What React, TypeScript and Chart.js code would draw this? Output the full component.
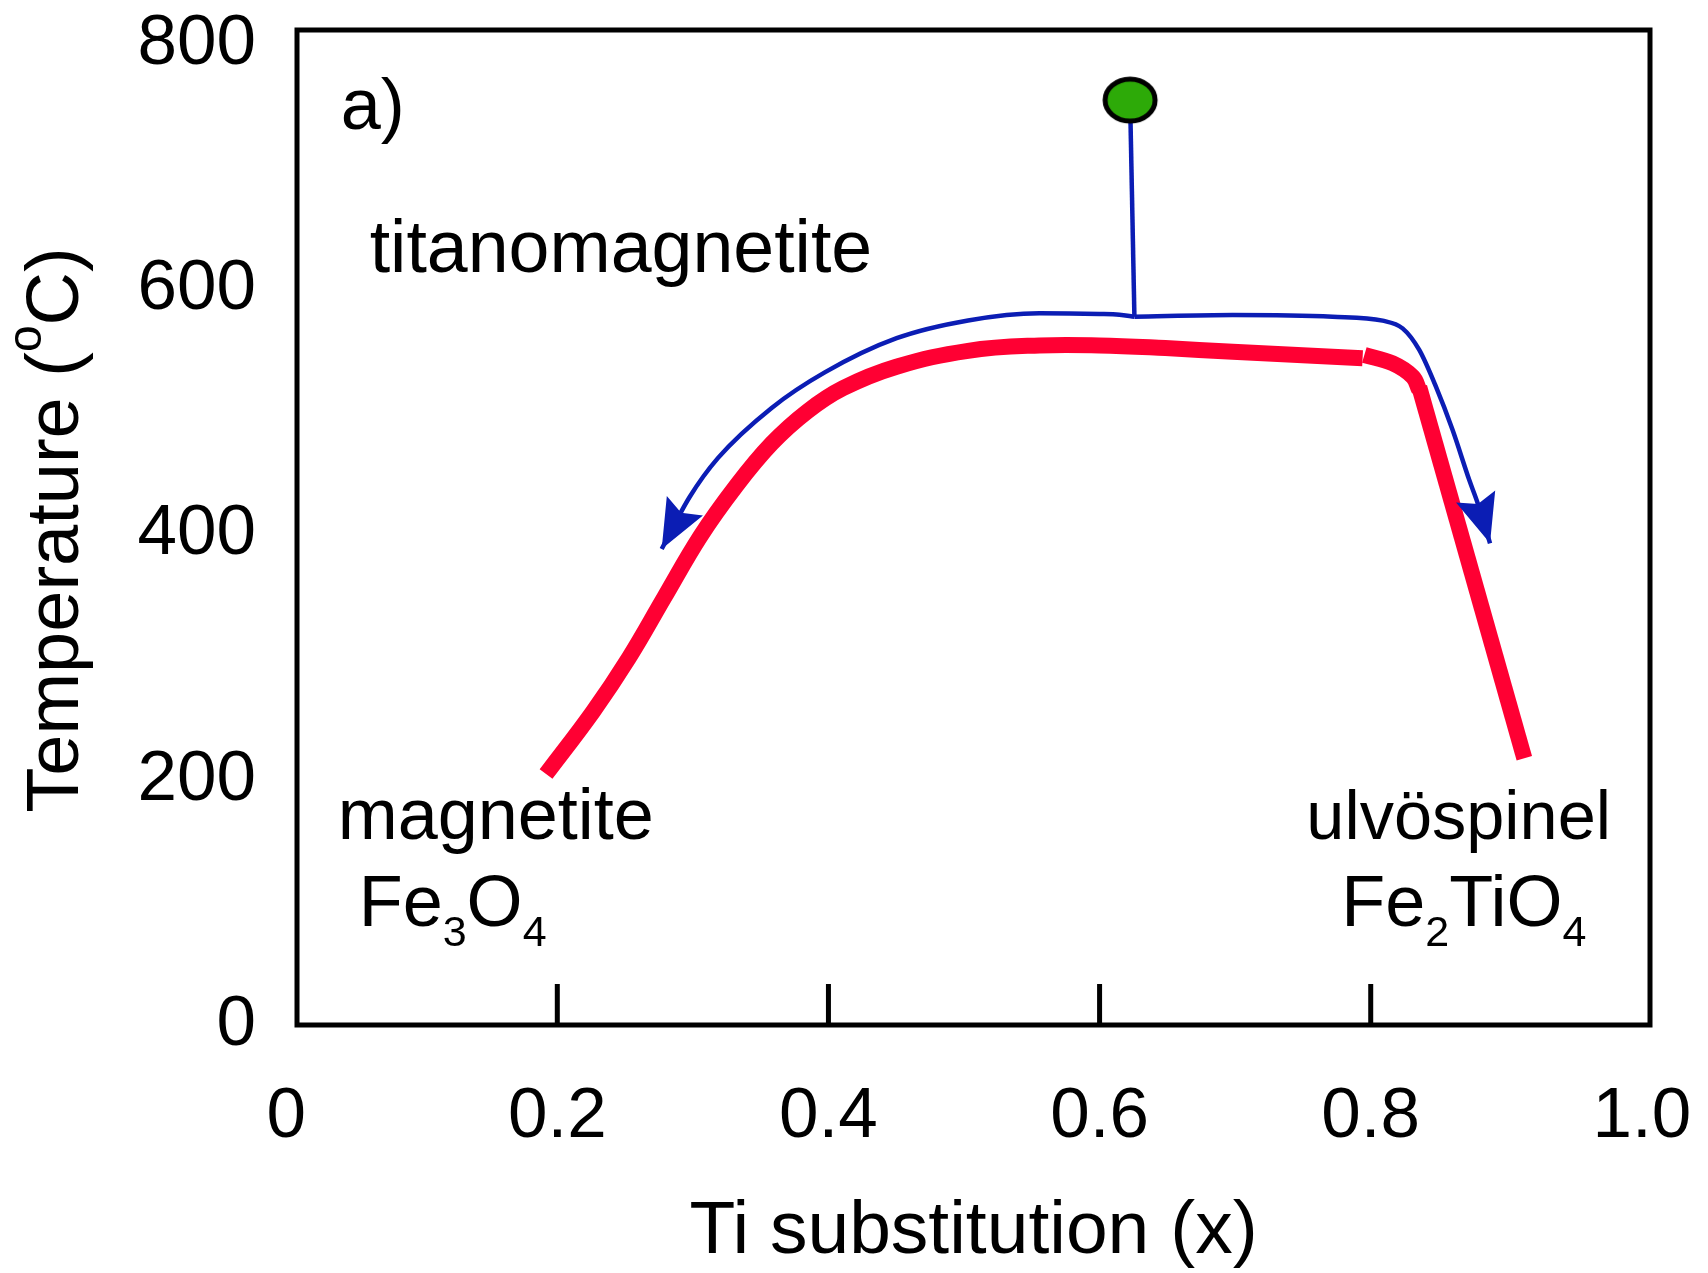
import React, { useEffect, useRef } from "react";
import { Chart, registerables } from "chart.js";

Chart.register(...registerables);

const FONT = '"Liberation Sans", Arial, sans-serif';

// Axis ticks
const xTickValues = [0, 0.2, 0.4, 0.6, 0.8, 1.0];
const xTickLabels = ["0", "0.2", "0.4", "0.6", "0.8", "1.0"];
const yTickValues = [0, 200, 400, 600, 800];
const xTitle = "Ti substitution (x)";

// Curie temperature of titanomagnetite (red curve), drawn in three pieces
const curieMainX = [0.1917, 0.2265, 0.2528, 0.2791, 0.3055, 0.3317, 0.3581, 0.3844, 0.4108, 0.4502, 0.503, 0.5556, 0.5998, 0.6485, 0.6982, 0.794];
const curieMainY = [204.8, 256, 299.6, 349.3, 398.8, 439.6, 474.5, 500.7, 519.7, 537.2, 550.2, 554.6, 554.6, 552.4, 549.4, 544.1];
const curieBendX = [0.7953, 0.8161, 0.8309, 0.8358];
const curieBendY = [546.8, 540, 529.1, 518.2];
const curieTailX = [0.8358, 0.9133];
const curieTailY = [520.5, 217.7];

// Cooling path of the starting composition (blue)
const startX = [0.6225];
const startY = [754.8];
const stemX = [0.6225, 0.6257];
const stemY = [754.8, 578];
const towardMagnetiteX = [0.6257, 0.6146, 0.5998, 0.5556, 0.503, 0.4503, 0.3976, 0.3581, 0.3186, 0.2975, 0.277];
const towardMagnetiteY = [578, 579.7, 580.3, 580.9, 575, 560.5, 532.8, 503.6, 462.8, 430.7, 388.5];
const towardUlvospinelX = [0.6257, 0.6982, 0.7719, 0.8088, 0.8235, 0.8358, 0.8481, 0.8604, 0.8727, 0.8789, 0.888];
const towardUlvospinelY = [578, 579.4, 578, 574.8, 568.5, 550.9, 520.9, 485.5, 444.7, 425.8, 393.1];

const RED = "#ff0033";
const BLUE = "#0b1db4";
const GREEN = "#2daa08";

type Run = { text: string; size: number; shift?: number };
type Label = { x: number; y: number; runs: Run[] };

// Text placed in data coordinates (left edge, baseline)
const labels: Label[] = [
  { x: 0.0402, y: 731.6, runs: [{ text: "a)", size: 72 }] },
  { x: 0.0616, y: 614.5, runs: [{ text: "titanomagnetite", size: 73.5 }] },
  { x: 0.038, y: 151.8, runs: [{ text: "magnetite", size: 72 }] },
  {
    x: 0.0535,
    y: 80.8,
    runs: [
      { text: "Fe", size: 72 },
      { text: "3", size: 43, shift: 20 },
      { text: "O", size: 72 },
      { text: "4", size: 43, shift: 20 },
    ],
  },
  { x: 0.7525, y: 151.8, runs: [{ text: "ulvöspinel", size: 68.5 }] },
  {
    x: 0.7783,
    y: 80.8,
    runs: [
      { text: "Fe", size: 72 },
      { text: "2", size: 43, shift: 20 },
      { text: "TiO", size: 72 },
      { text: "4", size: 43, shift: 20 },
    ],
  },
];

const yTitleRuns: Run[] = [
  { text: "Temperature (", size: 74 },
  { text: "o", size: 48, shift: -37 },
  { text: "C)", size: 74 },
];

const pts = (xs: number[], ys: number[]) => xs.map((x, i) => ({ x, y: ys[i] }));

function runsWidth(ctx: CanvasRenderingContext2D, runs: Run[]) {
  let w = 0;
  for (const r of runs) {
    ctx.font = `${r.size}px ${FONT}`;
    w += ctx.measureText(r.text).width;
  }
  return w;
}

function drawRuns(ctx: CanvasRenderingContext2D, runs: Run[], x: number, y: number) {
  let cx = x;
  for (const r of runs) {
    ctx.font = `${r.size}px ${FONT}`;
    ctx.fillText(r.text, cx, y + (r.shift || 0));
    cx += ctx.measureText(r.text).width;
  }
}

function makeDotImage() {
  const c = document.createElement("canvas");
  c.width = 58;
  c.height = 50;
  const g = c.getContext("2d")!;
  g.beginPath();
  g.ellipse(29, 25, 25, 21, 0, 0, Math.PI * 2);
  g.fillStyle = GREEN;
  g.fill();
  g.lineWidth = 5;
  g.strokeStyle = "#000";
  g.stroke();
  return c;
}

const decorPlugin = {
  id: "decor",
  afterDatasetsDraw(chart: any) {
    const ctx: CanvasRenderingContext2D = chart.ctx;
    const { left, right, top, bottom } = chart.chartArea;
    const xs = chart.scales.x;
    const ys = chart.scales.y;

    // arrowheads at the end of each blue path
    chart.data.datasets.forEach((ds: any, i: number) => {
      if (!ds.arrowEnd) return;
      const els = chart.getDatasetMeta(i).data;
      const tip = els[els.length - 1];
      const prev = els[els.length - 2];
      let dx = tip.x - prev.x;
      let dy = tip.y - prev.y;
      const len = Math.hypot(dx, dy) || 1;
      dx /= len;
      dy /= len;
      const nx = -dy;
      const ny = dx;
      const L = 49;
      const W = 20.5;
      const N = 8;
      ctx.save();
      ctx.fillStyle = BLUE;
      ctx.beginPath();
      ctx.moveTo(tip.x, tip.y);
      ctx.lineTo(tip.x - dx * L + nx * W, tip.y - dy * L + ny * W);
      ctx.lineTo(tip.x - dx * (L - N), tip.y - dy * (L - N));
      ctx.lineTo(tip.x - dx * L - nx * W, tip.y - dy * L - ny * W);
      ctx.closePath();
      ctx.fill();
      ctx.restore();
    });

    ctx.save();
    // inner tick marks on the bottom axis
    ctx.strokeStyle = "#000";
    ctx.lineWidth = 5;
    for (const v of xTickValues) {
      if (v <= 0 || v >= 1) continue;
      const px = xs.getPixelForValue(v);
      ctx.beginPath();
      ctx.moveTo(px, bottom);
      ctx.lineTo(px, bottom - 41);
      ctx.stroke();
    }
    // frame
    ctx.lineWidth = 5;
    ctx.strokeRect(left, top, right - left, bottom - top);

    // annotations
    ctx.fillStyle = "#000";
    ctx.textBaseline = "alphabetic";
    ctx.textAlign = "left";
    for (const lb of labels) {
      drawRuns(ctx, lb.runs, xs.getPixelForValue(lb.x), ys.getPixelForValue(lb.y));
    }

    // rotated y-axis title with superscript degree mark
    const w = runsWidth(ctx, yTitleRuns);
    ctx.translate(78, 530);
    ctx.rotate(-Math.PI / 2);
    drawRuns(ctx, yTitleRuns, -w / 2, 0);
    ctx.restore();
  },
};

export default function App() {
  const ref = useRef<HTMLCanvasElement | null>(null);

  useEffect(() => {
    if (!ref.current) return;
    const dot = makeDotImage();
    const chart = new Chart(ref.current, {
      type: "line",
      data: {
        datasets: [
          {
            data: pts(startX, startY),
            showLine: false,
            pointStyle: dot as any,
            pointRadius: 25,
          },
          {
            data: pts(stemX, stemY),
            borderColor: BLUE,
            borderWidth: 4.5,
            pointRadius: 0,
            tension: 0,
          },
          {
            data: pts(towardMagnetiteX, towardMagnetiteY),
            borderColor: BLUE,
            borderWidth: 4.5,
            pointRadius: 0,
            cubicInterpolationMode: "monotone",
            arrowEnd: true,
          } as any,
          {
            data: pts(towardUlvospinelX, towardUlvospinelY),
            borderColor: BLUE,
            borderWidth: 4.5,
            pointRadius: 0,
            cubicInterpolationMode: "monotone",
            arrowEnd: true,
          } as any,
          {
            data: pts(curieMainX, curieMainY),
            borderColor: RED,
            borderWidth: 16,
            borderCapStyle: "butt",
            pointRadius: 0,
            tension: 0.4,
          },
          {
            data: pts(curieBendX, curieBendY),
            borderColor: RED,
            borderWidth: 16,
            borderCapStyle: "butt",
            pointRadius: 0,
            tension: 0.4,
          },
          {
            data: pts(curieTailX, curieTailY),
            borderColor: RED,
            borderWidth: 16,
            borderCapStyle: "butt",
            pointRadius: 0,
            tension: 0,
          },
        ],
      },
      options: {
        responsive: false,
        animation: false,
        devicePixelRatio: 1,
        layout: { padding: { left: 0, right: 58, top: 30, bottom: 0 } },
        plugins: { legend: { display: false }, tooltip: { enabled: false } },
        scales: {
          x: {
            type: "linear",
            min: 0.008,
            max: 1.006,
            bounds: "data",
            grid: { display: false },
            border: { display: false },
            afterBuildTicks: (s: any) => {
              s.ticks = xTickValues.map((v) => ({ value: v }));
            },
            afterFit: (s: any) => {
              s.height = 248;
              s.paddingLeft = 0;
              s.paddingRight = 0;
            },
            ticks: {
              autoSkip: false,
              maxRotation: 0,
              padding: 42,
              color: "#000",
              font: { family: FONT, size: 71 },
              callback: (_v: any, i: number) => xTickLabels[i],
            },
            title: {
              display: true,
              text: xTitle,
              color: "#000",
              font: { family: FONT, size: 75, lineHeight: 1 },
              padding: { top: 0, bottom: 3 },
            },
          },
          y: {
            type: "linear",
            min: 0,
            max: 812,
            bounds: "data",
            grid: { display: false },
            border: { display: false },
            afterBuildTicks: (s: any) => {
              s.ticks = yTickValues.map((v) => ({ value: v }));
            },
            afterFit: (s: any) => {
              s.width = 297;
              s.paddingTop = 0;
              s.paddingBottom = 0;
            },
            ticks: {
              autoSkip: false,
              padding: 33,
              color: "#000",
              font: { family: FONT, size: 71 },
              callback: (v: any) => String(v),
            },
          },
        },
      } as any,
      plugins: [decorPlugin],
    });
    return () => chart.destroy();
  }, []);

  return (
    <div style={{ position: "absolute", left: 0, top: 0, width: 1708, height: 1273, background: "#fff" }}>
      <canvas ref={ref} width={1708} height={1273} style={{ display: "block" }} />
    </div>
  );
}
